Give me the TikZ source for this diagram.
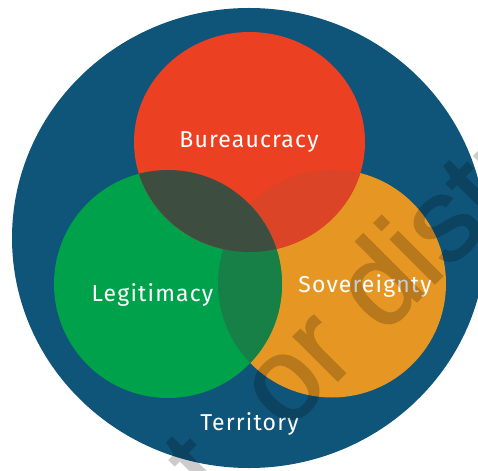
\documentclass[tikz,border=0pt]{standalone}
\usepackage{fontspec}
\setmainfont{Fira Sans}
\newfontfamily\labfont{Fira Sans}[LetterSpace=5]
\newfontfamily\wmfont{Liberation Sans}[FakeBold=1.5]
\definecolor{terr}{HTML}{0F5479}
\definecolor{rd}{HTML}{EC4023}
\definecolor{grn}{HTML}{00A14B}
\definecolor{orng}{HTML}{E69623}
\definecolor{rdgrn}{HTML}{3D4E40}
\definecolor{rdorng}{HTML}{DB4427}
\definecolor{grnorng}{HTML}{178047}
\begin{document}
\begin{tikzpicture}[x=1pt,y=-1pt,
  lab/.style={text=white,font=\labfont\fontsize{23}{23}\selectfont,anchor=base,inner sep=0pt},
  wmark/.style={text=black,font=\wmfont\fontsize{118}{118}\selectfont,anchor=base west,rotate=45,inner sep=0pt}]
\useasboundingbox (0,0) rectangle (478,470);
\clip (0,0) rectangle (478,470);
\fill[terr] (249,238) ellipse [x radius=237pt, y radius=230pt];
\fill[orng] (332,283.5) circle [radius=114pt];
\fill[grn] (168,284) circle [radius=114pt];
\fill[rd] (249.5,142) ellipse [x radius=115.5pt, y radius=110pt];
\begin{scope}
  \clip (332,283.5) circle [radius=114pt];
  \fill[rdorng] (249.5,142) ellipse [x radius=115.5pt, y radius=110pt];
\end{scope}
\begin{scope}
  \clip (168,284) circle [radius=114pt];
  \fill[grnorng] (332,283.5) circle [radius=114pt];
\end{scope}
\begin{scope}
  \clip (168,284) circle [radius=114pt];
  \fill[rdgrn] (249.5,142) ellipse [x radius=115.5pt, y radius=110pt];
\end{scope}
\node[lab] (bur) at (249,148) {Bureaucracy};
\node[lab] (leg) at (152.5,301) {Legitimacy};
\node[lab] (sov) at (365,292) {Sovereignty};
\node[lab] (ter) at (249.5,430) {Territory};
\begin{scope}[transparency group,opacity=0.2]
  \node[wmark] (wm1) at (119.4,598.3) {not};
  \node[wmark] (wm2) at (285.5,432.9) {or distribution};
\end{scope}
\end{tikzpicture}
\end{document}
